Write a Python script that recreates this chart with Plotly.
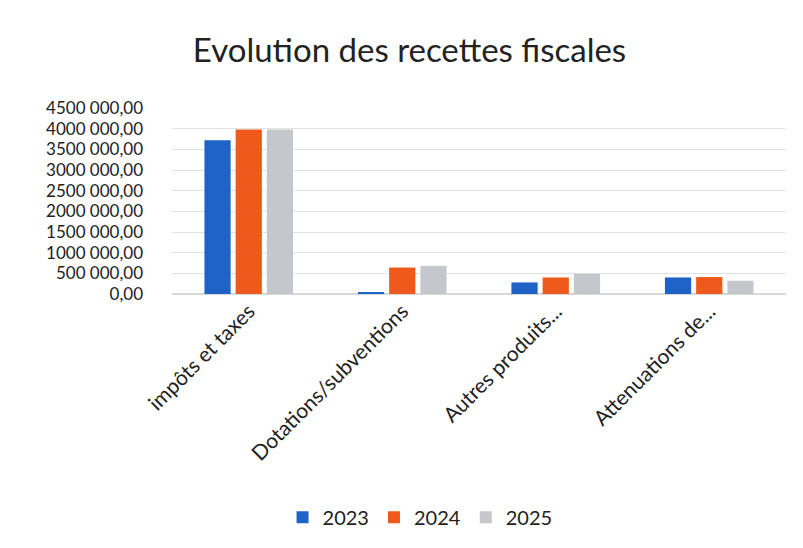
import plotly.graph_objects as go

categories = ['impôts et taxes', 'Dotations/subventions', 'Autres produits...', 'Attenuations de...']
years = ['2023', '2024', '2025']
values_2023 = [3720000, 40000, 280000, 400000]
values_2024 = [3980000, 640000, 400000, 410000]
values_2025 = [3980000, 680000, 490000, 320000]
colors = ['#1f63c6', '#ef5a1c', '#c5c7cc']

tick_vals = [0, 500000, 1000000, 1500000, 2000000, 2500000, 3000000, 3500000, 4000000, 4500000]
tick_text = ['0,00', '500 000,00', '1000 000,00', '1500 000,00', '2000 000,00',
             '2500 000,00', '3000 000,00', '3500 000,00', '4000 000,00', '4500 000,00']

font_family = 'Lato, Carlito, Calibri, sans-serif'

fig = go.Figure()
for year, vals, col in zip(years, [values_2023, values_2024, values_2025], colors):
    fig.add_trace(go.Bar(
        x=categories,
        y=vals,
        name=year,
        marker=dict(color=col, line=dict(width=0))
    ))

fig.update_layout(
    title=dict(text='Evolution des recettes fiscales', x=0.5, xanchor='center',
               y=0.923, yanchor='middle',
               font=dict(family=font_family, size=33, color='#222222')),
    width=803,
    height=548,
    margin=dict(l=164, r=25, t=100, b=262),
    paper_bgcolor='white',
    plot_bgcolor='white',
    barmode='group',
    bargap=0.39,
    bargroupgap=0.16,
    font=dict(family=font_family, size=18, color='#222222'),
    xaxis=dict(tickangle=-45, showgrid=False, showline=False, ticks='',
               automargin=False, tickfont=dict(size=21)),
    yaxis=dict(range=[0, 4500000], tickvals=tick_vals, ticktext=tick_text,
               showgrid=True, gridcolor='#e2e2e2', gridwidth=1,
               zeroline=True, zerolinecolor='#d8d8d8', showline=False,
               automargin=False, ticklabelstandoff=28,
               tickfont=dict(size=17)),
    legend=dict(orientation='h', x=0.404, xanchor='center', y=-1.2, yanchor='middle',
                font=dict(size=20), itemwidth=30, traceorder='normal'),
    showlegend=True
)

fig.write_html('out.html')
